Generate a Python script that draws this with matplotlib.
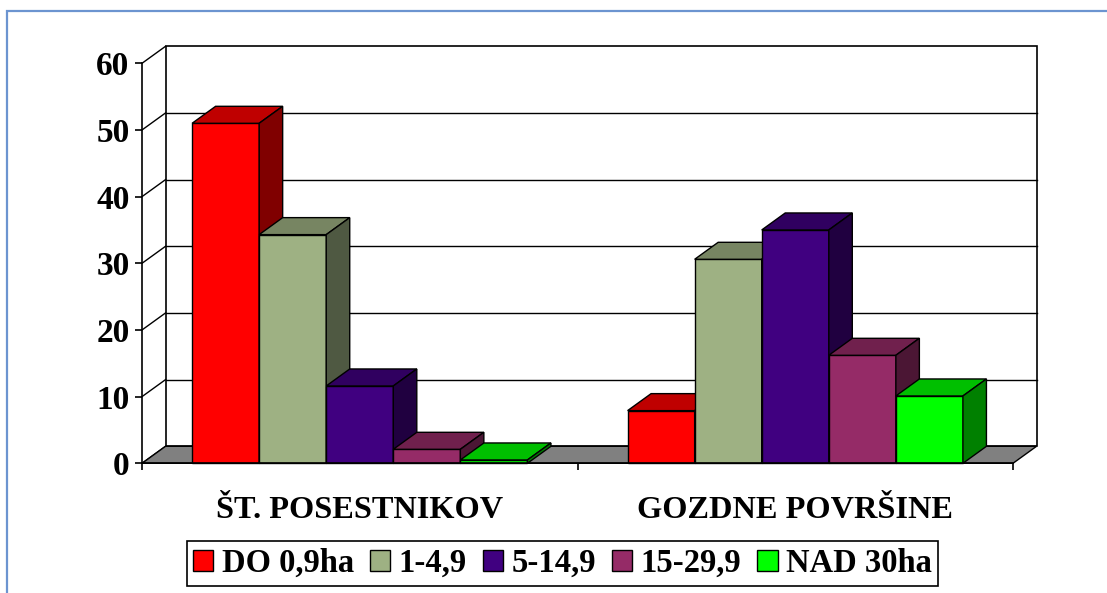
import numpy as np
import matplotlib
matplotlib.use("Agg")
import matplotlib.pyplot as plt
from matplotlib.patches import Polygon, Rectangle, Patch
from matplotlib.colors import to_rgb

categories = ["ŠT. POSESTNIKOV", "GOZDNE POVRŠINE"]
series = ["DO 0,9ha", "1-4,9", "5-14,9", "15-29,9", "NAD 30ha"]
values = [
    [51.0, 7.9],
    [34.3, 30.6],
    [11.6, 35.0],
    [2.1, 16.2],
    [0.5, 10.1],
]
colors = ["#FF0000", "#9EB183", "#400080", "#952B67", "#00FF00"]
yticks = [0, 10, 20, 30, 40, 50, 60]

W, H = 1107, 593
plt.rcParams["font.family"] = ["Liberation Serif", "DejaVu Serif"]
plt.rcParams["font.weight"] = "bold"

fig = plt.figure(figsize=(W / 100, H / 100), dpi=100)
fig.patch.set_facecolor("white")

# blue frame, only top and left edges are inside the picture
fig.patches.append(Rectangle((7 / W, -0.2), 1.2, 1.2 - 11 / H,
                             transform=fig.transFigure, fill=False,
                             edgecolor="#6C94D0", lw=1.6))

ax = fig.add_axes([142 / W, (H - 463.3) / H, 871 / W, 400 / H])
ax.set_xlim(0, 2)
ax.set_ylim(0, 60)
ax.patch.set_visible(False)

ddx, ddy = 0.054, 2.55  # depth offset in data units
ymax = yticks[-1]

# back wall + gridlines
ax.add_patch(Rectangle((ddx, ddy), 2, ymax, facecolor="white", edgecolor="black",
                       lw=1.2, zorder=1, clip_on=False))
for v in yticks[1:-1]:
    ax.plot([ddx, 2 + ddx], [v + ddy, v + ddy], color="black", lw=1, zorder=1, clip_on=False)
for v in yticks:
    ax.plot([0, ddx], [v, v + ddy], color="black", lw=1, zorder=1, clip_on=False)

# floor
ax.add_patch(Polygon([(0, 0), (2, 0), (2 + ddx, ddy), (ddx, ddy)], closed=True,
                     facecolor="#808080", edgecolor="black", lw=1, zorder=2, clip_on=False))

bw = 0.154
start = 0.5 - bw * len(series) / 2
x_group = np.arange(len(categories))
for i, (name, vals, c) in enumerate(zip(series, values, colors)):
    x0 = x_group + start + i * bw
    base = np.array(to_rgb(c))
    ax.bar(x0, vals, width=bw, align="edge", color=c, edgecolor="black", lw=1,
           zorder=3 + i, clip_on=False)
    for xl, h in zip(x0, vals):
        xr = xl + bw
        top = [(xl, h), (xr, h), (xr + ddx, h + ddy), (xl + ddx, h + ddy)]
        side = [(xr, 0), (xr + ddx, ddy), (xr + ddx, h + ddy), (xr, h)]
        ax.add_patch(Polygon(top, closed=True, facecolor=base * 0.75, edgecolor="black",
                             lw=1, zorder=3 + i, clip_on=False))
        ax.add_patch(Polygon(side, closed=True, facecolor=base * 0.5, edgecolor="black",
                             lw=1, zorder=3 + i, clip_on=False))

for s in ["top", "right"]:
    ax.spines[s].set_visible(False)
for s in ["left", "bottom"]:
    ax.spines[s].set_linewidth(1.2)
    ax.spines[s].set_zorder(10)

ax.set_yticks(yticks)
ax.set_yticklabels([str(t) for t in yticks], fontsize=24, fontweight="bold")
ax.set_xticks([0, 1, 2])
ax.set_xticklabels([])
ax.tick_params(axis="both", direction="out", length=5, width=1.2, pad=4)

for g, cat in enumerate(categories):
    ax.text(g + 0.5, -8.2, cat, ha="center", va="baseline", fontsize=23.3, fontweight="bold")

handles = [Patch(facecolor=c, edgecolor="black", lw=1) for c in colors]
leg = fig.legend(handles, series, loc="center", bbox_to_anchor=(562.5 / W, 1 - 563.5 / H),
                 ncol=5, frameon=True, fancybox=False, framealpha=1, edgecolor="black",
                 prop={"size": 23.5, "weight": "bold"}, handlelength=0.62, handleheight=0.62,
                 handletextpad=0.25, columnspacing=0.5, borderpad=0.2)
leg.get_frame().set_linewidth(1.2)

fig.savefig("out.png", dpi=100)
